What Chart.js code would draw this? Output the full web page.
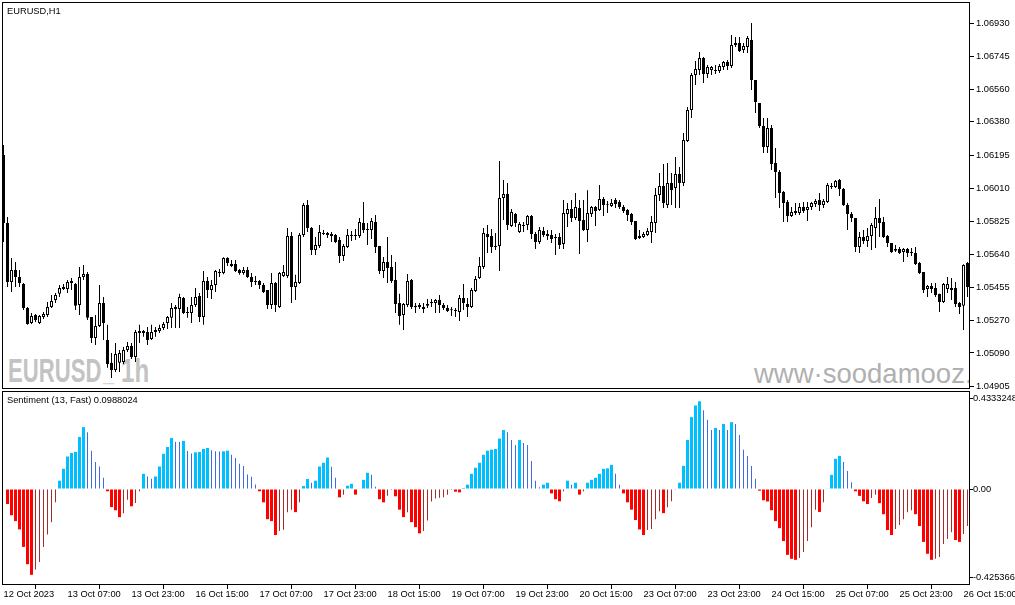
<!DOCTYPE html>
<html><head><meta charset="utf-8">
<script src="https://cdn.jsdelivr.net/npm/chart.js@4.4.1/dist/chart.umd.min.js"></script>
<style>
html,body{margin:0;padding:0;background:#fff;}
#wrap{position:relative;width:1015px;height:605px;overflow:hidden;background:#fff;font-family:'Liberation Sans',Arial,sans-serif;}
.wm{position:absolute;white-space:nowrap;line-height:1;font-family:'Liberation Sans',Arial,sans-serif;}
.big{font-weight:bold;font-size:33px;color:#c3c3c3;transform-origin:0 0;}
#clip{position:absolute;left:2px;top:2px;width:967px;height:386px;overflow:hidden;}
.lbl{position:absolute;font:9.3px 'Liberation Sans',Arial,sans-serif;line-height:1;color:#000;white-space:nowrap;}
canvas{position:absolute;left:0;}
</style></head>
<body><div id="wrap">
<div class="wm big" style="left:8px;top:354px;transform:scaleX(0.67)">EURUSD</div>
<div class="wm big" style="left:103px;top:352px;color:#d6d6d6;transform:scaleX(0.6)">_</div>
<div class="wm big" style="left:121px;top:354px;transform:scaleX(0.73)">1h</div>
<div id="clip"><div class="wm" style="left:752px;top:358px;font-size:27.5px;color:#b0b0b0">www·soodamooz.com</div></div>
<canvas id="c1" width="1015" height="390" style="top:0;width:1015px;height:390px"></canvas>
<canvas id="c2" width="1015" height="219" style="top:386px;width:1015px;height:219px"></canvas>
<div class="lbl" style="left:7px;top:7px">EURUSD,H1</div>
<div class="lbl" style="left:7px;top:396px">Sentiment (13, Fast) 0.0988024</div>
</div>
<script>
const opens = [1.06195,1.05816,1.05486,1.05553,1.05514,1.05475,1.05341,1.05258,1.05302,1.05258,
1.05291,1.05302,1.05347,1.05386,1.05420,1.05447,1.05447,1.05492,1.05475,1.05358,
1.05514,1.05531,1.05291,1.05174,1.05241,1.05369,1.05163,1.05035,1.04995,1.05035,
1.05040,1.05107,1.05129,1.05068,1.05202,1.05213,1.05207,1.05168,1.05207,1.05213,
1.05230,1.05258,1.05286,1.05336,1.05336,1.05397,1.05319,1.05313,1.05358,1.05408,
1.05291,1.05492,1.05442,1.05470,1.05537,1.05537,1.05620,1.05587,1.05587,1.05553,
1.05537,1.05553,1.05514,1.05492,1.05492,1.05470,1.05442,1.05358,1.05481,1.05347,
1.05520,1.05520,1.05743,1.05459,1.05481,1.05749,1.05916,1.05788,1.05665,1.05687,
1.05754,1.05760,1.05754,1.05749,1.05720,1.05632,1.05682,1.05743,1.05749,1.05743,
1.05816,1.05782,1.05777,1.05821,1.05687,1.05548,1.05598,1.05570,1.05498,1.05369,
1.05302,1.05358,1.05498,1.05353,1.05347,1.05336,1.05353,1.05375,1.05369,1.05386,
1.05358,1.05341,1.05330,1.05330,1.05319,1.05397,1.05364,1.05347,1.05436,1.05509,
1.05570,1.05754,1.05743,1.05687,1.05687,1.05955,1.05978,1.05799,1.05866,1.05765,
1.05805,1.05805,1.05855,1.05754,1.05710,1.05771,1.05754,1.05749,1.05738,1.05738,
1.05699,1.05866,1.05894,1.05844,1.05899,1.05832,1.05777,1.05866,1.05905,1.05888,
1.05950,1.05916,1.05911,1.05944,1.05933,1.05905,1.05888,1.05866,1.05827,1.05732,
1.05738,1.05749,1.05765,1.05816,1.05972,1.06022,1.05916,1.06039,1.06011,1.06089,
1.06039,1.06273,1.06446,1.06642,1.06669,1.06736,1.06647,1.06669,1.06669,1.06664,
1.06686,1.06714,1.06692,1.06809,1.06820,1.06781,1.06798,1.06837,1.06614,1.06485,
1.06357,1.06240,1.06346,1.06150,1.06100,1.05989,1.05933,1.05855,1.05871,1.05871,
1.05905,1.05888,1.05905,1.05922,1.05944,1.05916,1.05933,1.06017,1.06017,1.06056,
1.06005,1.05916,1.05866,1.05844,1.05682,1.05738,1.05715,1.05743,1.05788,1.05844,
1.05821,1.05743,1.05704,1.05671,1.05671,1.05654,1.05671,1.05648,1.05648,1.05592,
1.05542,1.05447,1.05464,1.05453,1.05420,1.05375,1.05447,1.05453,1.05453,1.05369,
1.05353,1.05592];
const highs = [1.06251,1.05849,1.05620,1.05598,1.05553,1.05480,1.05347,1.05313,1.05308,1.05302,
1.05319,1.05375,1.05414,1.05425,1.05470,1.05475,1.05498,1.05509,1.05481,1.05570,
1.05581,1.05542,1.05291,1.05302,1.05470,1.05403,1.05247,1.05090,1.05146,1.05107,
1.05124,1.05152,1.05146,1.05219,1.05247,1.05219,1.05235,1.05247,1.05235,1.05247,
1.05263,1.05297,1.05369,1.05358,1.05420,1.05403,1.05347,1.05403,1.05453,1.05425,
1.05548,1.05514,1.05498,1.05553,1.05559,1.05625,1.05625,1.05609,1.05609,1.05559,
1.05570,1.05570,1.05537,1.05520,1.05498,1.05481,1.05442,1.05537,1.05486,1.05542,
1.05581,1.05788,1.05765,1.05526,1.05760,1.05927,1.05944,1.05793,1.05738,1.05805,
1.05777,1.05765,1.05765,1.05754,1.05738,1.05699,1.05782,1.05771,1.05782,1.05844,
1.05933,1.05816,1.05844,1.05860,1.05687,1.05626,1.05738,1.05637,1.05598,1.05420,
1.05369,1.05531,1.05503,1.05369,1.05369,1.05369,1.05392,1.05392,1.05392,1.05414,
1.05369,1.05358,1.05347,1.05341,1.05414,1.05475,1.05397,1.05453,1.05520,1.05626,
1.05788,1.05805,1.05782,1.05760,1.06162,1.06056,1.06039,1.05894,1.05871,1.05821,
1.05821,1.05860,1.05860,1.05765,1.05793,1.05793,1.05777,1.05777,1.05754,1.05760,
1.05944,1.05927,1.05944,1.05983,1.05944,1.05944,1.05999,1.05911,1.05911,1.06028,
1.05961,1.05938,1.05950,1.05955,1.05944,1.05916,1.05894,1.05871,1.05827,1.05777,
1.05765,1.05788,1.05855,1.06011,1.06095,1.06145,1.06150,1.06095,1.06184,1.06128,
1.06318,1.06463,1.06653,1.06720,1.06770,1.06742,1.06697,1.06692,1.06697,1.06703,
1.06720,1.06725,1.06865,1.06854,1.06854,1.06820,1.06859,1.06932,1.06614,1.06485,
1.06402,1.06402,1.06363,1.06234,1.06111,1.05994,1.05944,1.05905,1.05927,1.05927,
1.05933,1.05933,1.05933,1.05950,1.05983,1.05950,1.06039,1.06039,1.06056,1.06061,
1.06011,1.05927,1.05877,1.05844,1.05765,1.05777,1.05788,1.05816,1.05905,1.05950,
1.05849,1.05749,1.05704,1.05693,1.05682,1.05676,1.05676,1.05676,1.05682,1.05598,
1.05542,1.05470,1.05481,1.05481,1.05420,1.05481,1.05514,1.05509,1.05486,1.05375,
1.05585,1.05598];
const lows = [1.05710,1.05459,1.05431,1.05459,1.05459,1.05330,1.05247,1.05252,1.05263,1.05252,
1.05280,1.05291,1.05341,1.05369,1.05403,1.05442,1.05425,1.05442,1.05330,1.05302,
1.05498,1.05274,1.05146,1.05135,1.05235,1.05163,1.05007,1.04951,1.04984,1.04984,
1.05029,1.05096,1.05057,1.05040,1.05146,1.05180,1.05135,1.05163,1.05180,1.05202,
1.05219,1.05224,1.05230,1.05230,1.05230,1.05308,1.05286,1.05258,1.05347,1.05263,
1.05247,1.05397,1.05392,1.05431,1.05514,1.05530,1.05576,1.05570,1.05542,1.05526,
1.05526,1.05509,1.05459,1.05470,1.05447,1.05425,1.05336,1.05336,1.05319,1.05341,
1.05514,1.05509,1.05369,1.05386,1.05475,1.05738,1.05765,1.05637,1.05637,1.05676,
1.05749,1.05732,1.05710,1.05704,1.05592,1.05604,1.05676,1.05715,1.05720,1.05732,
1.05760,1.05693,1.05726,1.05648,1.05531,1.05509,1.05481,1.05481,1.05313,1.05247,
1.05219,1.05347,1.05336,1.05313,1.05336,1.05313,1.05341,1.05347,1.05313,1.05313,
1.05330,1.05319,1.05297,1.05291,1.05269,1.05330,1.05291,1.05341,1.05431,1.05503,
1.05559,1.05648,1.05648,1.05665,1.05548,1.05832,1.05777,1.05793,1.05793,1.05760,
1.05765,1.05777,1.05726,1.05671,1.05699,1.05738,1.05720,1.05704,1.05637,1.05671,
1.05671,1.05793,1.05821,1.05832,1.05643,1.05771,1.05710,1.05849,1.05799,1.05883,
1.05855,1.05871,1.05905,1.05899,1.05894,1.05871,1.05827,1.05805,1.05720,1.05726,
1.05732,1.05743,1.05704,1.05760,1.05938,1.05899,1.05899,1.05916,1.05899,1.05899,
1.06022,1.06268,1.06402,1.06586,1.06642,1.06597,1.06625,1.06642,1.06647,1.06653,
1.06669,1.06669,1.06681,1.06798,1.06770,1.06764,1.06764,1.06558,1.06430,1.06346,
1.06206,1.06206,1.06111,1.05955,1.05899,1.05821,1.05821,1.05849,1.05860,1.05860,
1.05871,1.05827,1.05888,1.05905,1.05883,1.05899,1.05927,1.06005,1.06011,1.05966,
1.05911,1.05777,1.05821,1.05654,1.05648,1.05699,1.05682,1.05665,1.05676,1.05738,
1.05732,1.05682,1.05648,1.05654,1.05643,1.05598,1.05626,1.05632,1.05581,1.05531,
1.05425,1.05403,1.05425,1.05403,1.05319,1.05369,1.05425,1.05386,1.05347,1.05308,
1.05219,1.05403];
const closes = [1.05816,1.05486,1.05553,1.05514,1.05481,1.05341,1.05252,1.05297,1.05274,1.05297,
1.05308,1.05347,1.05380,1.05414,1.05453,1.05459,1.05486,1.05481,1.05353,1.05514,
1.05531,1.05286,1.05174,1.05241,1.05369,1.05258,1.05029,1.04995,1.05085,1.05090,
1.05107,1.05129,1.05068,1.05207,1.05213,1.05202,1.05163,1.05207,1.05219,1.05230,
1.05252,1.05291,1.05341,1.05347,1.05403,1.05313,1.05313,1.05358,1.05403,1.05291,
1.05492,1.05442,1.05470,1.05548,1.05542,1.05620,1.05592,1.05576,1.05548,1.05537,
1.05553,1.05514,1.05486,1.05486,1.05470,1.05431,1.05358,1.05481,1.05358,1.05537,
1.05542,1.05743,1.05459,1.05486,1.05749,1.05916,1.05788,1.05665,1.05693,1.05765,
1.05760,1.05749,1.05743,1.05710,1.05632,1.05687,1.05749,1.05749,1.05743,1.05821,
1.05777,1.05777,1.05827,1.05682,1.05548,1.05598,1.05565,1.05492,1.05364,1.05297,
1.05364,1.05492,1.05347,1.05347,1.05358,1.05347,1.05364,1.05369,1.05386,1.05358,
1.05341,1.05325,1.05328,1.05325,1.05397,1.05369,1.05347,1.05442,1.05503,1.05576,
1.05760,1.05738,1.05682,1.05682,1.05955,1.05978,1.05805,1.05877,1.05816,1.05810,
1.05799,1.05855,1.05754,1.05710,1.05777,1.05749,1.05743,1.05726,1.05732,1.05693,
1.05871,1.05894,1.05844,1.05905,1.05827,1.05777,1.05871,1.05905,1.05883,1.05950,
1.05916,1.05914,1.05927,1.05922,1.05905,1.05883,1.05860,1.05821,1.05726,1.05743,
1.05754,1.05771,1.05821,1.05972,1.06022,1.05927,1.06039,1.05999,1.06089,1.06039,
1.06279,1.06446,1.06642,1.06675,1.06736,1.06647,1.06686,1.06686,1.06664,1.06692,
1.06714,1.06692,1.06809,1.06820,1.06775,1.06803,1.06848,1.06614,1.06491,1.06357,
1.06240,1.06346,1.06145,1.06100,1.05983,1.05927,1.05855,1.05877,1.05883,1.05905,
1.05883,1.05905,1.05927,1.05938,1.05916,1.05938,1.06028,1.06022,1.06050,1.06005,
1.05916,1.05866,1.05844,1.05682,1.05738,1.05715,1.05743,1.05805,1.05844,1.05816,
1.05738,1.05704,1.05654,1.05660,1.05648,1.05671,1.05648,1.05654,1.05587,1.05537,
1.05441,1.05464,1.05447,1.05414,1.05375,1.05475,1.05475,1.05441,1.05364,1.05347,
1.05581,1.05459];
const sentiment = [0,-0.072,-0.126,-0.154,-0.194,-0.278,-0.361,-0.412,-0.386,-0.350,
-0.278,-0.218,-0.159,-0.064,0.040,0.097,0.156,0.173,0.178,0.250,
0.297,0.273,0.184,0.130,0.108,0.054,-0.011,-0.087,-0.102,-0.135,
-0.116,-0.051,-0.083,-0.067,-0.011,0.073,0.060,0.049,0.060,0.108,
0.169,0.202,0.245,0.227,0.226,0.231,0.183,0.170,0.176,0.178,
0.192,0.197,0.186,0.181,0.180,0.181,0.184,0.164,0.149,0.121,
0.111,0.070,0.059,0.022,-0.011,-0.064,-0.145,-0.154,-0.221,-0.202,
-0.196,-0.111,-0.099,-0.111,-0.064,0.014,0.048,0.030,0.040,0.108,
0.126,0.151,0.107,0.054,-0.040,-0.027,0.016,0.025,-0.027,0.003,
0.044,0.078,0.068,0.011,-0.049,-0.064,-0.032,-0.005,-0.035,-0.099,
-0.135,-0.111,-0.159,-0.183,-0.213,-0.202,-0.151,-0.060,-0.045,-0.042,
-0.040,-0.027,-0.005,-0.013,-0.016,0.005,0.021,0.073,0.102,0.126,
0.164,0.184,0.189,0.192,0.242,0.283,0.273,0.235,0.211,0.235,
0.221,0.211,0.135,0.040,0.008,0.021,0.030,-0.021,-0.049,-0.059,
-0.011,0.040,0.021,0.030,-0.027,-0.011,0.030,0.044,0.054,0.073,
0.097,0.099,0.116,0.073,0.021,-0.021,-0.064,-0.099,-0.149,-0.194,
-0.221,-0.197,-0.192,-0.145,-0.107,-0.116,-0.087,-0.059,-0.003,0.030,
0.111,0.235,0.345,0.401,0.421,0.378,0.332,0.283,0.293,0.283,
0.312,0.283,0.321,0.312,0.259,0.188,0.159,0.111,0.049,-0.008,
-0.054,-0.060,-0.102,-0.154,-0.188,-0.250,-0.316,-0.335,-0.340,-0.331,
-0.302,-0.250,-0.183,-0.099,-0.110,-0.064,0.003,0.068,0.145,0.159,
0.130,0.087,0.033,-0.011,-0.033,-0.059,-0.072,-0.043,-0.027,-0.068,
-0.121,-0.197,-0.221,-0.192,-0.173,-0.145,-0.111,-0.102,-0.121,-0.178,
-0.254,-0.311,-0.340,-0.335,-0.326,-0.264,-0.240,-0.207,-0.245,-0.254,
-0.216,-0.178];
const xTickIndex = [0,16,32,48,64,80,96,112,128,144,160,176,192,208,224,240];
const xTickLabels = ['12 Oct 2023','13 Oct 07:00','13 Oct 23:00','16 Oct 15:00','17 Oct 07:00','17 Oct 23:00','18 Oct 15:00','19 Oct 07:00','19 Oct 23:00','20 Oct 15:00','23 Oct 07:00','23 Oct 23:00','24 Oct 15:00','25 Oct 07:00','25 Oct 23:00','26 Oct 15:00'];
const priceTicks = [1.06930,1.06745,1.06560,1.06380,1.06195,1.06010,1.05825,1.05640,1.05455,1.05270,1.05090,1.04905];
const sentTicks = [0.4333248,0,-0.425366];
const sentTickLabels = ['0.4333248','0.00','-0.425366'];

const FONT = {family: "'Liberation Sans', Arial, sans-serif", size: 9.3};
const N = opens.length;

const framePlugin = {
  id: 'frame',
  afterDraw(chart) {
    const {ctx, chartArea: a} = chart;
    ctx.save();
    ctx.strokeStyle = '#000';
    ctx.lineWidth = 1;
    ctx.strokeRect(a.left + 0.5, a.top + 0.5, a.right - a.left - 1, a.bottom - a.top - 1);
    ctx.restore();
  }
};

function indexScale(display) {
  return {
    type: 'linear', min: -0.375, max: N - 0.375, offset: false, display: display, bounds: 'data', position: 'bottom',
    afterBuildTicks: s => { s.ticks = xTickIndex.map(v => ({value: v})); },
    afterFit: s => { s.paddingLeft = 0; s.paddingRight = 0; if (display) s.height = 20; },
    ticks: {autoSkip: false, maxRotation: 0, minRotation: 0, align: 'start', padding: 0, color: '#000', font: FONT,
      callback: (v, i) => xTickLabels[i]},
    grid: {drawOnChartArea: false, drawTicks: true, tickLength: 4, color: '#000', lineWidth: 1},
    border: {display: false}
  };
}

const common = {
  responsive: false, animation: false, devicePixelRatio: 1, events: [],
  plugins: {legend: {display: false}, tooltip: {enabled: false}, title: {display: false}}
};

new Chart(document.getElementById('c1'), {
  type: 'bar',
  data: {
    datasets: [
      {
        label: 'body', order: 0,
        data: opens.map((o, i) => ({x: i, y: [o, closes[i]]})),
        backgroundColor: ctx => closes[ctx.dataIndex] >= opens[ctx.dataIndex] ? '#ffffff' : '#000000',
        borderColor: '#000', borderWidth: 1, borderSkipped: false, grouped: false,
        barPercentage: 1, categoryPercentage: 1, maxBarThickness: 3, minBarLength: 1, inflateAmount: 0
      },
      {
        label: 'wick', order: 1,
        data: lows.map((l, i) => ({x: i, y: [l, highs[i]]})),
        backgroundColor: '#000', borderWidth: 0, grouped: false,
        barPercentage: 1, categoryPercentage: 1, maxBarThickness: 1, inflateAmount: 0
      }
    ]
  },
  options: Object.assign({}, common, {
    layout: {padding: {left: 2, top: 2, right: 0, bottom: 1}},
    scales: {
      x: indexScale(false),
      y: {
        type: 'linear', position: 'right', min: 1.04889, max: 1.07049, bounds: 'data',
        afterBuildTicks: s => { s.ticks = priceTicks.map(v => ({value: v})); },
        afterFit: s => { s.width = 45; s.paddingTop = 0; s.paddingBottom = 0; },
        ticks: {autoSkip: false, padding: 2, color: '#000', font: FONT, callback: v => Number(v).toFixed(5)},
        grid: {drawOnChartArea: false, drawTicks: true, tickLength: 4, color: '#000'},
        border: {display: false}
      }
    }
  }),
  plugins: [framePlugin]
});

const isThick = i => {
  const v = sentiment[i], p = i > 0 ? sentiment[i - 1] : 0;
  return v > 0 ? v > p : (v < 0 ? v < p : false);
};

new Chart(document.getElementById('c2'), {
  type: 'bar',
  data: {
    datasets: [
      {
        label: 'strong',
        data: sentiment.map((v, i) => ({x: i, y: isThick(i) ? v : null})),
        backgroundColor: ctx => (ctx.raw && ctx.raw.y > 0) ? '#00BFFF' : '#FF0000',
        borderWidth: 0, grouped: false, barPercentage: 1, categoryPercentage: 1, maxBarThickness: 3, inflateAmount: 0
      },
      {
        label: 'weak',
        data: sentiment.map((v, i) => ({x: i, y: (!isThick(i) && v !== 0) ? v : null})),
        backgroundColor: ctx => (ctx.raw && ctx.raw.y > 0) ? '#4169E1' : '#A52A2A',
        borderWidth: 0, grouped: false, barPercentage: 1, categoryPercentage: 1, maxBarThickness: 1, inflateAmount: 0
      }
    ]
  },
  options: Object.assign({}, common, {
    layout: {padding: {left: 2, top: 5, right: 0, bottom: 0}},
    scales: {
      x: indexScale(true),
      y: {
        type: 'linear', position: 'right', min: -0.4608, max: 0.4704, bounds: 'data',
        afterBuildTicks: s => { s.ticks = sentTicks.map(v => ({value: v})); },
        afterFit: s => { s.width = 45; s.paddingTop = 0; s.paddingBottom = 0; },
        ticks: {autoSkip: false, padding: 0, color: '#000', font: FONT, callback: (v, i) => sentTickLabels[i]},
        grid: {drawOnChartArea: false, drawTicks: true, tickLength: 3, color: '#000'},
        border: {display: false}
      }
    }
  }),
  plugins: [framePlugin]
});
</script>
</body></html>
